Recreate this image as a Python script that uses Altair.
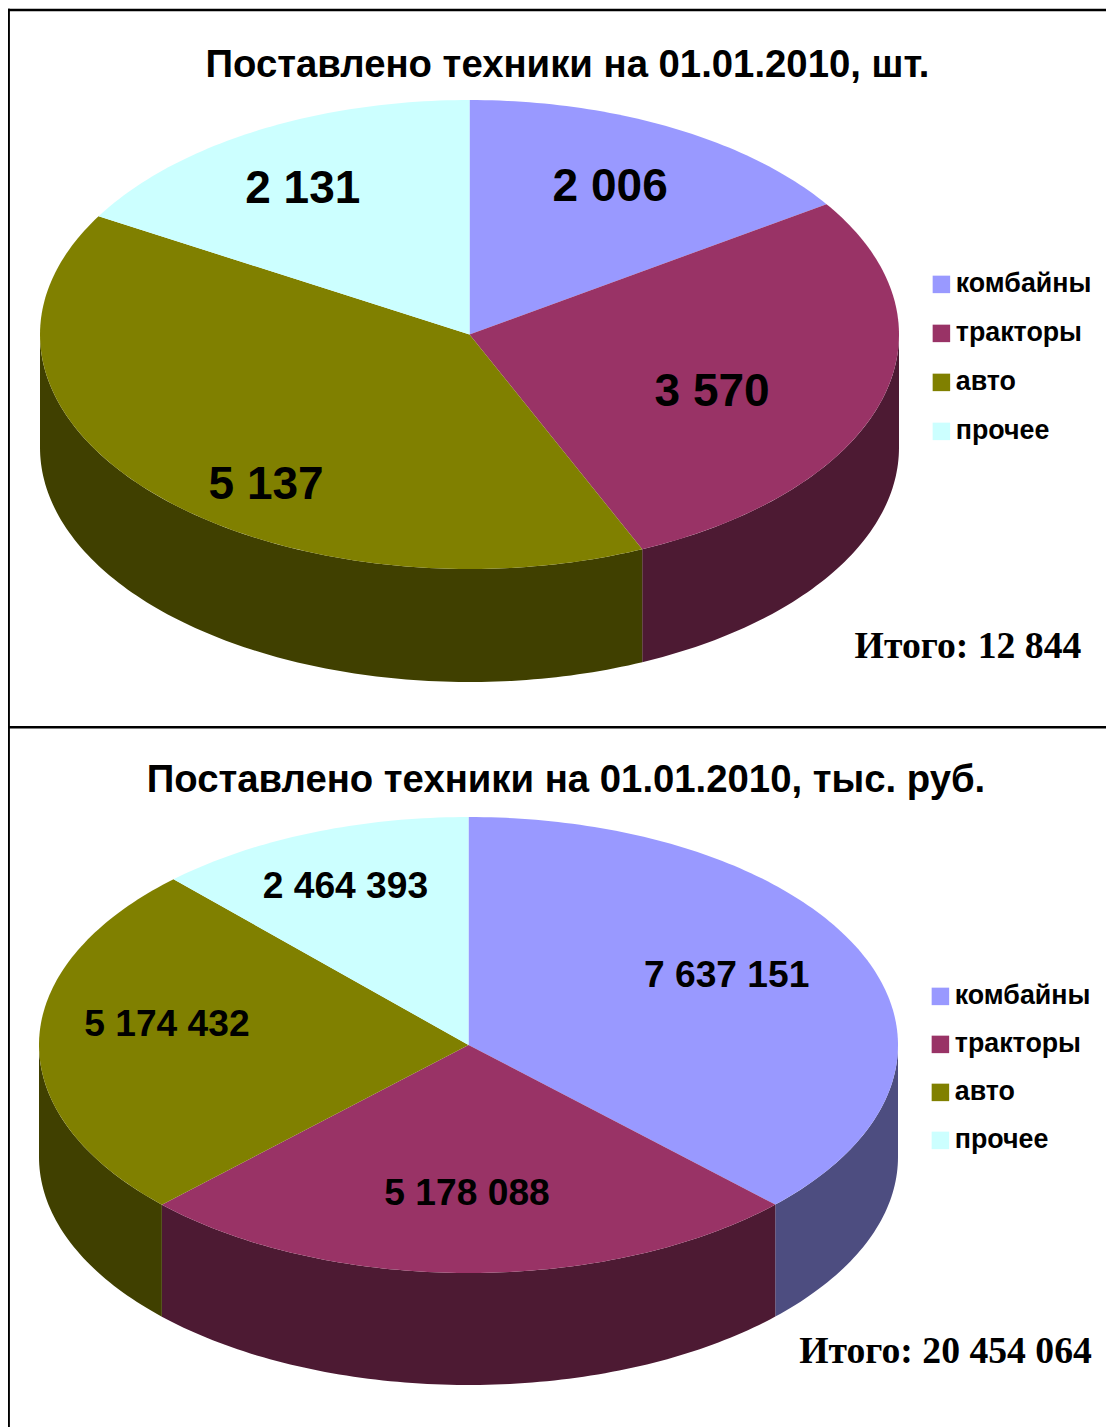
import math
import altair as alt
import pandas as pd

CATEGORIES = ["комбайны", "тракторы", "авто", "прочее"]
VALUES_UNITS = [2006, 3570, 5137, 2131]
VALUES_RUB = [7637151, 5178088, 5174432, 2464393]
LABELS_UNITS = ["2 006", "3 570", "5 137", "2 131"]
LABELS_RUB = ["7 637 151", "5 178 088", "5 174 432", "2 464 393"]
TITLE_UNITS = "Поставлено техники на 01.01.2010, шт."
TITLE_RUB = "Поставлено техники на 01.01.2010, тыс. руб."
TOTAL_UNITS = "Итого: 12 844"
TOTAL_RUB = "Итого: 20 454 064"

TOP_COLORS = ["#9999FF", "#993366", "#808000", "#CCFFFF"]
WALL_COLORS = ["#4D4D80", "#4D1A33", "#404000", "#668080"]

W = 1098
H = 1419
SANS = "Liberation Sans"
SERIF = "Liberation Serif"

X = alt.X("x:Q", scale=alt.Scale(domain=[0, W], nice=False, zero=False), axis=None)
Y = alt.Y("y:Q", scale=alt.Scale(domain=[H, 0], nice=False, zero=False), axis=None)


def point(cx, cy, rx, ry, deg, drop=0.0):
    t = math.radians(deg)
    return cx + rx * math.sin(t), cy - ry * math.cos(t) + drop


def arc_degrees(a, b):
    n = max(2, int(abs(b - a)) + 1)
    return [a + (b - a) * k / (n - 1) for k in range(n)]


def pie_layers(values, labels, label_shift, title, title_x, title_y, total, total_x, total_y,
               cx, cy, rx, ry, depth, label_size, legend_x, legend_y, legend_pad):
    total_v = sum(values)
    edges = [0.0]
    for v in values:
        edges.append(edges[-1] + v / total_v * 360.0)

    tops, walls, text = [], [], []
    for s, cat in enumerate(CATEGORIES):
        a, b = edges[s], edges[s + 1]
        pts = [(cx, cy)] + [point(cx, cy, rx, ry, d) for d in arc_degrees(a, b)]
        for i, (x, y) in enumerate(pts):
            tops.append({"cat": cat, "i": i, "x": x, "y": y})
        lo, hi = max(a, 90.0), min(b, 270.0)
        if lo < hi:
            deg = arc_degrees(lo, hi)
            ring = [point(cx, cy, rx, ry, d) for d in deg] + \
                   [point(cx, cy, rx, ry, d, depth) for d in reversed(deg)]
            walls.append((s, pd.DataFrame(
                [{"i": i, "x": x, "y": y} for i, (x, y) in enumerate(ring)])))
        lx, ly = point(cx, cy, rx * 0.7, ry * 0.7, (a + b) / 2)
        text.append({"label": labels[s], "x": lx + label_shift[s][0], "y": ly + label_shift[s][1]})

    layers = []
    for s, df in walls:
        layers.append(alt.Chart(df).mark_line(fill=WALL_COLORS[s], strokeWidth=0, clip=False)
                      .encode(x=X, y=Y, order=alt.Order("i:Q")))
    layers.append(alt.Chart(pd.DataFrame(tops)).mark_line(strokeWidth=0, clip=False).encode(
        x=X, y=Y, order=alt.Order("i:Q"),
        detail="cat:N",
        fill=alt.Fill("cat:N",
                      scale=alt.Scale(domain=CATEGORIES, range=TOP_COLORS),
                      sort=CATEGORIES,
                      legend=alt.Legend(orient="none", legendX=legend_x, legendY=legend_y,
                                        title=None, symbolType="square", symbolSize=306,
                                        symbolStrokeWidth=0, labelFont=SANS, labelFontSize=26.8,
                                        labelFontWeight="bold", labelColor="#000000",
                                        rowPadding=legend_pad, labelOffset=1,
                                        labelLimit=300)),
    ))
    layers.append(alt.Chart(pd.DataFrame(text)).mark_text(
        font=SANS, fontWeight="bold", fontSize=label_size, color="#000000",
        align="center", baseline="middle").encode(x=X, y=Y, text="label:N"))
    layers.append(alt.Chart(pd.DataFrame({"t": [total]})).mark_text(
        font=SERIF, fontWeight="bold", fontSize=37.7, color="#000000",
        align="center", baseline="alphabetic").encode(
            x=alt.value(total_x), y=alt.value(total_y), text="t:N"))
    layers.append(alt.Chart(pd.DataFrame({"t": [title]})).mark_text(
        font=SANS, fontWeight="bold", fontSize=38.3, color="#000000",
        align="center", baseline="alphabetic").encode(
            x=alt.value(title_x), y=alt.value(title_y), text="t:N"))
    return layers


def rule(**enc):
    return alt.Chart(pd.DataFrame({"a": [0]})).mark_rule(color="#000000", strokeWidth=2.6).encode(**enc)


frame = [
    rule(x=alt.value(0.6), y=alt.value(0.7), y2=alt.value(H)),
    rule(x=alt.value(0), x2=alt.value(W), y=alt.value(2)),
    rule(x=alt.value(0), x2=alt.value(W), y=alt.value(719.3)),
]

upper = pie_layers(VALUES_UNITS, LABELS_UNITS, [(-1, -3), (-46, 11.5), (21, 41), (-17, -3)],
                   TITLE_UNITS, 559.5, 69, TOTAL_UNITS, 960, 650,
                   461.5, 326.5, 429.5, 234.5, 113, 46, 920, 263, 21)
lower = pie_layers(VALUES_RUB, LABELS_RUB, [(-19, -7), (-1.5, -10.6), (-1, -17), (-12, -10)],
                   TITLE_RUB, 558, 784, TOTAL_RUB, 937.5, 1355,
                   460.5, 1037, 429.5, 228, 112, 37.2, 919, 975, 20)

chart = alt.layer(*(upper + lower + frame)).resolve_scale(fill="independent").resolve_legend(
    fill="independent"
).properties(
    width=W, height=H, padding=0, autosize=alt.AutoSizeParams(type="none")
).configure_view(stroke=None)

chart.save("out.html", embed_options={"renderer": "svg", "actions": False})
